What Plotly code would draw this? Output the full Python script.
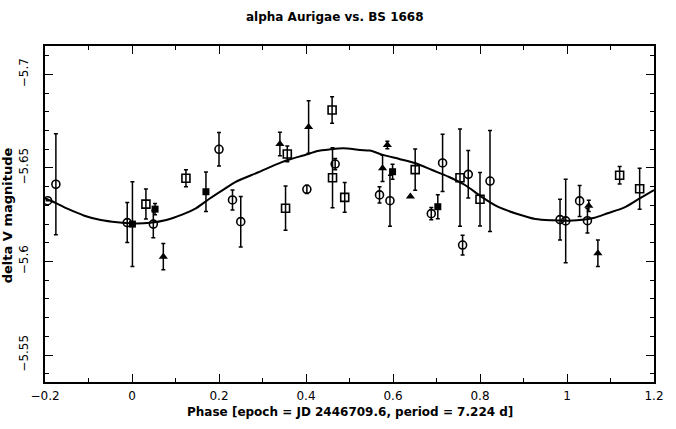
import plotly.graph_objects as go

# ---- data ----
# open circles
circ_x = [-0.194, -0.175, -0.011, 0.049, 0.200, 0.231, 0.250, 0.402, 0.467, 0.569, 0.593,
          0.688, 0.714, 0.773, 0.760, 0.823, 0.984, 0.997, 1.029, 1.047]
circ_y = [-5.6325, -5.6413, -5.6208, -5.6200, -5.6600, -5.6329, -5.6213, -5.6386, -5.6521, -5.6356, -5.6325,
          -5.6256, -5.6527, -5.6466, -5.6088, -5.6430, -5.6224, -5.6217, -5.6324, -5.6218]
circ_e = [0.0, 0.027, 0.0107, 0.0073, 0.009, 0.0053, 0.0135, 0.0022, 0.003, 0.0043, 0.0136,
          0.0033, 0.0153, 0.0127, 0.0053, 0.027, 0.0109, 0.0223, 0.0083, 0.0065]

# open squares
sq_x = [0.032, 0.124, 0.357, 0.353, 0.460, 0.461, 0.489, 0.651, 0.754, 0.800, 1.121, 1.167]
sq_y = [-5.6307, -5.6445, -5.6575, -5.6285, -5.6810, -5.6448, -5.6343, -5.6491, -5.6448, -5.6333, -5.6461, -5.6389]
sq_e = [0.008, 0.0046, 0.0042, 0.0118, 0.0071, 0.016, 0.008, 0.011, 0.026, 0.0143, 0.0047, 0.0109]

# filled squares
fsq_x = [0.001, 0.053, 0.170, 0.599, 0.703]
fsq_y = [-5.6200, -5.6280, -5.6373, -5.6480, -5.6293]
fsq_e = [0.0226, 0.003, 0.0106, 0.004, 0.0064]

# filled triangles
tri_x = [0.072, 0.340, 0.406, 0.587, 0.576, 0.640, 1.050, 1.071]
tri_y = [-5.6026, -5.6628, -5.6719, -5.6623, -5.6498, -5.6347, -5.6298, -5.6044]
tri_e = [0.007, 0.0063, 0.014, 0.002, 0.007, 0.0, 0.003, 0.0071]

# fitted light curve
fit_x = [-0.200, -0.1735, -0.1473, -0.1095, -0.0717, -0.0337, 0.0036, 0.0414, 0.0790, 0.1167,
         0.1468, 0.1771, 0.2147, 0.2373, 0.2903, 0.3430, 0.3656, 0.4034, 0.4260, 0.4561,
         0.4862, 0.5240, 0.5466, 0.5767, 0.6145, 0.6523, 0.6898, 0.7276, 0.7654, 0.8029,
         0.8407, 0.8860, 0.9274, 0.9652, 1.0029, 1.0405, 1.0631, 1.0934, 1.1310, 1.1613, 1.200]
fit_y = [-5.6338, -5.6311, -5.6281, -5.6245, -5.6222, -5.6210, -5.6204, -5.6207, -5.6222, -5.6252,
         -5.6284, -5.6334, -5.6391, -5.6424, -5.6477, -5.6530, -5.6548, -5.6573, -5.6591, -5.6600,
         -5.6605, -5.6596, -5.6593, -5.6570, -5.6548, -5.6525, -5.6489, -5.6453, -5.6409, -5.6347,
         -5.6293, -5.6254, -5.6227, -5.6220, -5.6218, -5.6224, -5.6234, -5.6258, -5.6288, -5.6329, -5.6382]

x_ticks = [-0.2, 0, 0.2, 0.4, 0.6, 0.8, 1, 1.2]
x_labels = ["\u22120.2", "0", "0.2", "0.4", "0.6", "0.8", "1", "1.2"]
y_ticks = [-5.7, -5.65, -5.6, -5.55]
y_labels = ["\u22125.7", "\u22125.65", "\u22125.6", "\u22125.55"]

FONT = "DejaVu Sans"

fig = go.Figure()

fig.add_trace(go.Scatter(x=fit_x, y=fit_y, mode="lines",
                         line=dict(color="black", width=2, shape="spline", smoothing=0.8),
                         hoverinfo="skip", showlegend=False))

def err(arr):
    return dict(type="data", array=arr, visible=True, color="black", thickness=1.5, width=2)

fig.add_trace(go.Scatter(x=circ_x, y=circ_y, mode="markers", error_y=err(circ_e),
                         marker=dict(symbol="circle-open", size=8, color="black",
                                     line=dict(width=1.6, color="black")), showlegend=False))
fig.add_trace(go.Scatter(x=sq_x, y=sq_y, mode="markers", error_y=err(sq_e),
                         marker=dict(symbol="square-open", size=8, color="black",
                                     line=dict(width=1.6, color="black")), showlegend=False))
fig.add_trace(go.Scatter(x=fsq_x, y=fsq_y, mode="markers", error_y=err(fsq_e),
                         marker=dict(symbol="square", size=7, color="black"), showlegend=False))
fig.add_trace(go.Scatter(x=tri_x, y=tri_y, mode="markers", error_y=err(tri_e),
                         marker=dict(symbol="triangle-up", size=8, color="black"), showlegend=False))

fig.update_layout(
    width=676, height=429,
    margin=dict(l=45, r=13, t=46, b=47),
    paper_bgcolor="white", plot_bgcolor="white",
    font=dict(family=FONT, size=11, color="black"),
    annotations=[
        dict(text="<b>alpha Aurigae vs. BS 1668</b>", xref="paper", yref="paper",
             x=0.477, y=1.086, xanchor="center", yanchor="middle",
             showarrow=False, font=dict(family=FONT, size=12)),
        dict(text="<b>Phase [epoch = JD 2446709.6, period = 7.224 d]</b>", xref="paper", yref="paper",
             x=0.5, y=-0.089, xanchor="center", yanchor="middle",
             showarrow=False, font=dict(family=FONT, size=12)),
        dict(text="<b>delta V magnitude</b>", xref="paper", yref="paper",
             x=-0.062, y=0.497, xanchor="center", yanchor="middle",
             showarrow=False, textangle=-90, font=dict(family=FONT, size=13)),
    ],
)

fig.update_xaxes(range=[-0.2, 1.2], tickvals=x_ticks, ticktext=x_labels,
                 showgrid=False, zeroline=False, showline=True, linecolor="black", linewidth=1.5,
                 mirror="allticks", ticks="inside", ticklen=8, tickwidth=1, tickcolor="black",
                 minor=dict(dtick=0.1, ticks="inside", ticklen=4, tickcolor="black", showgrid=False),
                 tickfont=dict(family=FONT, size=12), ticklabelstandoff=2)
fig.update_yaxes(range=[-5.5356, -5.7152], tickvals=y_ticks, ticktext=y_labels, tickangle=-90,
                 showgrid=False, zeroline=False, showline=True, linecolor="black", linewidth=1.5,
                 mirror="allticks", ticks="inside", ticklen=8, tickwidth=1, tickcolor="black",
                 minor=dict(tickvals=[round(-5.71 + 0.01 * i, 2) for i in range(18)], ticks="inside",
                            ticklen=4, tickcolor="black", showgrid=False),
                 tickfont=dict(family=FONT, size=12), ticklabelstandoff=10)

fig.write_html("out.html")
